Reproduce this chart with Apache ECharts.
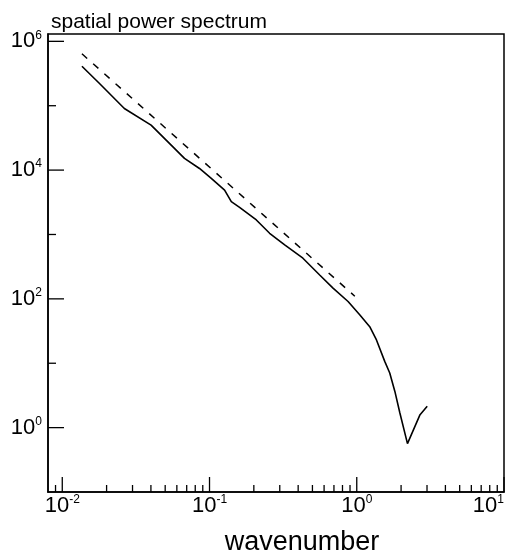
<!DOCTYPE html>
<html><head><meta charset="utf-8">
<script src="https://cdn.jsdelivr.net/npm/echarts@6/dist/echarts.min.js"></script>
<style>html,body{margin:0;padding:0;background:#fff}#c{width:511px;height:554px}</style>
</head><body><div id="c"></div>
<script>
const solidWavenumber = [0.0136, 0.0179, 0.0264, 0.0401, 0.0578, 0.0676, 0.0855, 0.1028, 0.1266, 0.1406, 0.160, 0.208, 0.256, 0.324, 0.431, 0.560, 0.690, 0.873, 1.047, 1.225, 1.361, 1.549, 1.675, 1.815, 1.963, 2.21, 2.69, 3.01];
const solidPower = [4.1e5, 2.21e5, 9.06e4, 4.99e4, 2.17e4, 1.52e4, 1.06e4, 7430, 4900, 3230, 2640, 1680, 1043, 687, 428, 235, 147, 91, 56.5, 37, 23, 10.7, 7.05, 3.65, 1.69, 0.565, 1.59, 2.14];
const dashedWavenumber = [0.0136, 0.97];
const dashedPower = [6.4e5, 110];
const xMajorTicks = [0.01, 0.1, 1, 10];
const xMinorTicks = [0.009, 0.02, 0.03, 0.04, 0.05, 0.06, 0.07, 0.08, 0.09, 0.2, 0.3, 0.4, 0.5, 0.6, 0.7, 0.8, 0.9, 2, 3, 4, 5, 6, 7, 8, 9];
const yMajorTicks = [1, 100, 1e4, 1e6];
const yMinorTicks = [10, 1e3, 1e5];
const xLabelExponents = [-2, -1, 0, 1];
const yLabelExponents = [0, 2, 4, 6];

const FONT = '"Liberation Sans", Arial, sans-serif';
function expLabel(allowed) {
  return function (v) {
    const l = Math.log10(v);
    const e = Math.round(l);
    if (Math.abs(l - e) > 0.01 || allowed.indexOf(e) < 0) return '';
    return '{b|10}{s|' + e + '}';
  };
}
const richLbl = {
  b: { fontSize: 22, lineHeight: 24, fontFamily: FONT, color: '#000' },
  s: { fontSize: 12, lineHeight: 13, verticalAlign: 'top', fontFamily: FONT, color: '#000' }
};
function tickSeries(values, isX, len) {
  return {
    type: 'custom', silent: true, z: 5, clip: false,
    data: values.map(v => isX ? [v, 1] : [1, v]),
    renderItem: function (params, api) {
      const cs = params.coordSys;
      if (isX) {
        const x = api.coord([api.value(0), 1])[0];
        return { type: 'line', shape: { x1: x, y1: cs.y + cs.height, x2: x, y2: cs.y + cs.height - len }, style: { stroke: '#000', lineWidth: 1.3 } };
      } else {
        const y = api.coord([1, api.value(1)])[1];
        return { type: 'line', shape: { x1: cs.x, y1: y, x2: cs.x + len, y2: y }, style: { stroke: '#000', lineWidth: 1.3 } };
      }
    }
  };
}
const chart = echarts.init(document.getElementById('c'), null, { renderer: 'canvas' });
chart.setOption({
  animation: false,
  backgroundColor: '#fff',
  title: {
    text: 'spatial power spectrum', left: 51, top: 12, padding: 0,
    textStyle: { fontSize: 21, fontWeight: 'normal', color: '#000', fontFamily: FONT }
  },
  grid: { left: 48, right: 7, top: 34, bottom: 62, containLabel: false, outerBoundsMode: 'none', show: true, borderColor: '#000', borderWidth: 1.5, backgroundColor: 'transparent' },
  xAxis: {
    type: 'log', min: 0.008, max: 10, logBase: 10,
    axisLine: { show: true, lineStyle: { color: '#000', width: 1.5 } },
    axisTick: { show: false }, splitLine: { show: false }, minorTick: { show: false },
    axisLabel: { formatter: expLabel(xLabelExponents), rich: richLbl, margin: 2, showMinLabel: true, showMaxLabel: true, hideOverlap: false, alignMaxLabel: 'right' },
    name: 'wavenumber', nameLocation: 'middle', nameGap: 37,
    nameTextStyle: { fontSize: 27, color: '#000', fontFamily: FONT, padding: [0, 0, 0, 52] }
  },
  yAxis: {
    type: 'log', min: 0.1, max: 1.3e6, logBase: 10,
    axisLine: { show: true, lineStyle: { color: '#000', width: 1.5 } },
    axisTick: { show: false }, splitLine: { show: false }, minorTick: { show: false },
    axisLabel: { formatter: expLabel(yLabelExponents), rich: richLbl, margin: 6, showMinLabel: true, showMaxLabel: true, hideOverlap: false }
  },
  series: [
    tickSeries(xMajorTicks, true, 15),
    tickSeries(xMinorTicks, true, 7),
    tickSeries(yMajorTicks, false, 16),
    tickSeries(yMinorTicks, false, 8),
    {
      type: 'line', symbol: 'none', smooth: false, z: 3,
      data: solidWavenumber.map((x, i) => [x, solidPower[i]]),
      lineStyle: { color: '#000', width: 1.6 }
    },
    {
      type: 'line', symbol: 'none', smooth: false, z: 3,
      data: dashedWavenumber.map((x, i) => [x, dashedPower[i]]),
      lineStyle: { color: '#000', width: 1.5, type: [7, 8] }
    }
  ]
});
</script></body></html>
